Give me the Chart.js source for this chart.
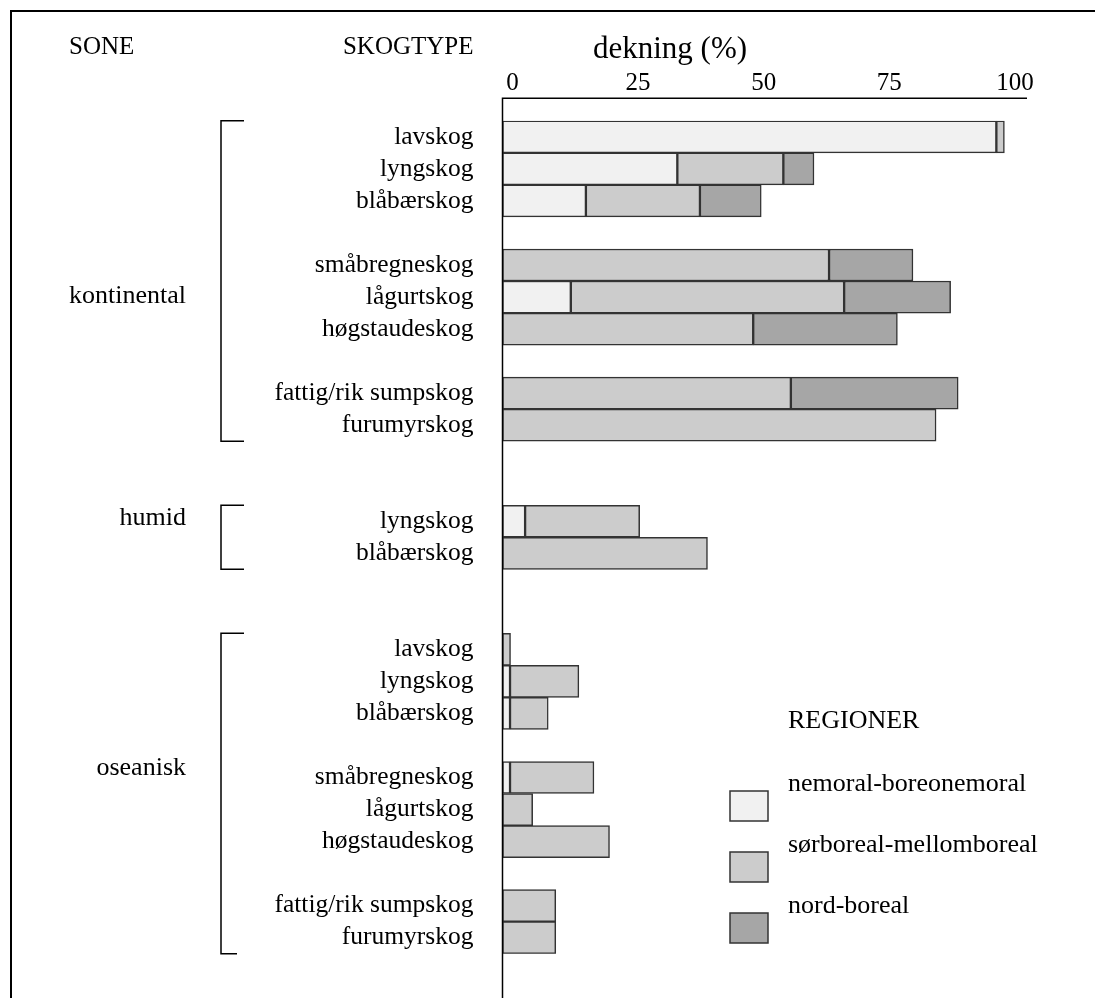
<!DOCTYPE html>
<html>
<head>
<meta charset="utf-8">
<script src="https://cdn.jsdelivr.net/npm/chart.js@4.4.1/dist/chart.umd.min.js"></script>
<style>
html, body { margin: 0; padding: 0; background: #fff; }
#wrap { position: relative; width: 1095px; height: 998px; }
</style>
</head>
<body>
<div id="wrap"><canvas id="chart_dekning"></canvas></div>
<script>
// rader i diagrammet, '' = tom rad mellom gruppene
var skogtyper = [
  'lavskog', 'lyngskog', 'blåbærskog', '',
  'småbregneskog', 'lågurtskog', 'høgstaudeskog', '',
  'fattig/rik sumpskog', 'furumyrskog', '', '',
  'lyngskog', 'blåbærskog', '', '',
  'lavskog', 'lyngskog', 'blåbærskog', '',
  'småbregneskog', 'lågurtskog', 'høgstaudeskog', '',
  'fattig/rik sumpskog', 'furumyrskog'
];

var nemoral = [98.3, 34.8, 16.6, null, null, 13.6, null, null, null, null, null, null,
  4.5, null, null, null,
  null, 1.5, 1.5, null, 1.5, null, null, null, null, null];
var sorboreal = [1.6, 21.1, 22.7, null, 65.0, 54.4, 49.9, null, 57.4, 86.3, null, null,
  22.8, 40.8, null, null,
  1.6, 13.7, 7.6, null, 16.7, 6.0, 21.3, null, 10.6, 10.6];
var nordboreal = [null, 6.1, 12.2, null, 16.7, 21.2, 28.7, null, 33.3, null, null, null,
  null, null, null, null,
  null, null, null, null, null, null, null, null, null, null];

var regioner = ['nemoral-boreonemoral', 'sørboreal-mellomboreal', 'nord-boreal'];
var tickVerdier = [0, 25, 50, 75, 100];

// soner: første og siste rad, og raden teksten står ved
var soner = ['kontinental', 'humid', 'oseanisk'];
var soneRader = [[0, 9], [12, 13], [16, 25]];
var soneTekstRad = [4.94, 11.88, 19.68];

var aksetittel = 'dekning (%)';
var serif = '"Liberation Serif", "Times New Roman", serif';

var pyntPlugin = {
  id: 'pynt',
  beforeDraw: function (chart) {
    var ctx = chart.ctx;
    ctx.save();
    ctx.fillStyle = '#fff';
    ctx.fillRect(0, 0, chart.width, chart.height);
    ctx.restore();
  },
  afterDraw: function (chart) {
    var ctx = chart.ctx, area = chart.chartArea;
    var xs = chart.scales.x, ys = chart.scales.y;
    var x0 = xs.getPixelForValue(0);
    var aksY = area.top - 22.5;
    var halv = (ys.getPixelForValue(1) - ys.getPixelForValue(0)) / 2;

    ctx.save();
    ctx.strokeStyle = '#000';
    // ramme
    ctx.lineWidth = 2;
    ctx.beginPath();
    ctx.moveTo(11, chart.height + 5);
    ctx.lineTo(11, 11);
    ctx.lineTo(chart.width + 5, 11);
    ctx.stroke();

    // akselinjer
    ctx.lineWidth = 1.5;
    ctx.beginPath();
    ctx.moveTo(x0, chart.height + 5);
    ctx.lineTo(x0, aksY);
    ctx.lineTo(area.right, aksY);
    ctx.stroke();

    // overskrifter
    ctx.fillStyle = '#000';
    ctx.textBaseline = 'alphabetic';
    ctx.font = '25px ' + serif;
    ctx.textAlign = 'left';
    ctx.fillText('SONE', 69, 54);
    ctx.textAlign = 'right';
    ctx.fillText('SKOGTYPE', area.left - 29, 54);
    ctx.font = '31px ' + serif;
    ctx.textAlign = 'center';
    ctx.fillText(aksetittel, 670, 58);

    // soner med klammer
    ctx.font = '26px ' + serif;
    ctx.textAlign = 'right';
    ctx.lineWidth = 1.5;
    soner.forEach(function (navn, i) {
      var topp = ys.getPixelForValue(soneRader[i][0]) - halv;
      var bunn = ys.getPixelForValue(soneRader[i][1]) + halv;
      ctx.beginPath();
      ctx.moveTo(244, topp);
      ctx.lineTo(221, topp);
      ctx.lineTo(221, bunn);
      ctx.lineTo(i === 2 ? 237 : 244, bunn);
      ctx.stroke();
      ctx.fillText(navn, 186, ys.getPixelForValue(soneTekstRad[i]) + 8);
    });

    // tegnforklaring
    ctx.textAlign = 'left';
    ctx.fillText('REGIONER', 788, 728);
    chart.data.datasets.forEach(function (ds, i) {
      var y = 791 + i * 61;
      ctx.fillStyle = ds.backgroundColor;
      ctx.fillRect(730, y, 38, 30);
      ctx.strokeStyle = '#333';
      ctx.strokeRect(730, y, 38, 30);
      ctx.fillStyle = '#000';
      ctx.fillText(ds.label, 788, y);
    });
    ctx.restore();
  }
};

var barStil = {
  categoryPercentage: 1,
  barPercentage: 1,
  borderWidth: 1.5,
  borderColor: '#333',
  borderSkipped: false
};

var chart_dekning = new Chart(document.getElementById('chart_dekning'), {
  type: 'bar',
  data: {
    labels: skogtyper,
    datasets: [
      Object.assign({ label: regioner[0], data: nemoral, backgroundColor: '#f1f1f1' }, barStil),
      Object.assign({ label: regioner[1], data: sorboreal, backgroundColor: '#cccccc' }, barStil),
      Object.assign({ label: regioner[2], data: nordboreal, backgroundColor: '#a6a6a6' }, barStil)
    ]
  },
  options: {
    animation: false,
    responsive: true,
    maintainAspectRatio: false,
    indexAxis: 'y',
    layout: { padding: { left: 0, top: 0, right: 68, bottom: 34.5 } },
    plugins: {
      legend: { display: false },
      tooltip: { enabled: false }
    },
    scales: {
      x: {
        type: 'linear',
        position: 'top',
        stacked: true,
        min: 0,
        max: 104.4,
        grid: { display: false, drawTicks: false },
        border: { display: false },
        ticks: {
          color: '#000',
          font: { family: serif, size: 25 },
          padding: 22,
          labelOffset: 10,
          maxRotation: 0
        },
        afterBuildTicks: function (scale) {
          scale.ticks = tickVerdier.map(function (v) { return { value: v }; });
        },
        afterFit: function (scale) {
          scale.height = 120.85;
        }
      },
      y: {
        type: 'category',
        stacked: true,
        grid: { display: false, drawTicks: false },
        border: { display: false },
        ticks: {
          color: '#000',
          autoSkip: false,
          font: { family: serif, size: 25.5 },
          padding: 29
        },
        afterFit: function (scale) {
          scale.width = 502.5;
        }
      }
    }
  },
  plugins: [pyntPlugin]
});
</script>
</body>
</html>
